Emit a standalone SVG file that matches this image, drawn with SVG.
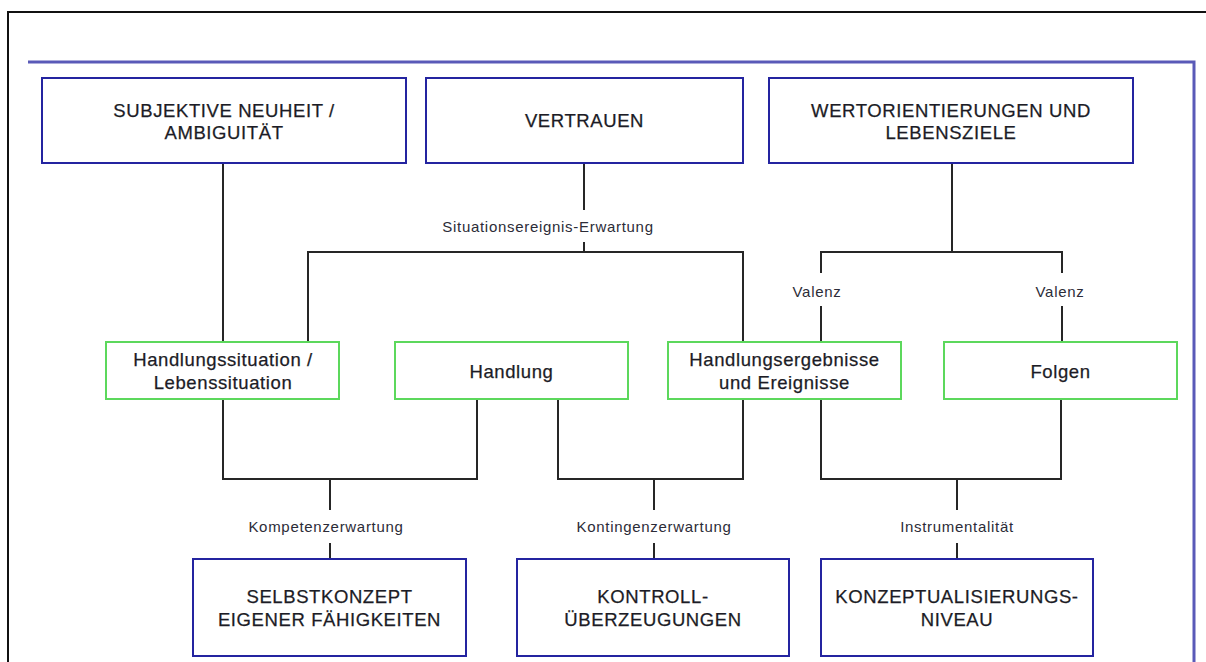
<svg xmlns="http://www.w3.org/2000/svg" width="1206" height="662" viewBox="0 0 1206 662">
<style>
.bg{fill:#ffffff}
.frame{fill:none;stroke:#111111;stroke-width:2}
.bframe{fill:none;stroke:#5a5ab8;stroke-width:3}
.blue{fill:#ffffff;stroke:#2424a0;stroke-width:2}
.green{fill:#ffffff;stroke:#5cd85c;stroke-width:2}
.t{font-family:"Liberation Sans",Arial,sans-serif;font-size:18.5px;letter-spacing:0.6px;fill:#1c1c26;text-anchor:middle;stroke:#1c1c26;stroke-width:0.25}
.lbl{font-family:"Liberation Sans",Arial,sans-serif;font-size:15px;letter-spacing:0.7px;fill:#2c2c38;text-anchor:middle}
.c{fill:none;stroke:#262626;stroke-width:2}
</style>
<rect class="bg" x="0" y="0" width="1206" height="662"/>
<path class="frame" d="M8,662 V12 H1206"/>
<path class="bframe" d="M28,62 H1194 V662"/>

<g id="connectors">
<path class="c" d="M223,163 V342"/>
<path class="c" d="M584,163 V210 M584,242 V252 M308,342 V252 H743 V342"/>
<path class="c" d="M952,163 V252 M821,273 V252 H1062 V273 M821,306 V342 M1062,306 V342"/>
<path class="c" d="M223,399 V479 H477 V399 M330,479 V510 M330,543 V559"/>
<path class="c" d="M558,399 V479 H743 V399 M654,479 V510 M654,543 V559"/>
<path class="c" d="M821,399 V479 H1061 V399 M957,479 V510 M957,543 V559"/>
<text class="lbl" x="548" y="232">Situationsereignis-Erwartung</text>
<text class="lbl" x="817" y="297">Valenz</text>
<text class="lbl" x="1060" y="297">Valenz</text>
<text class="lbl" x="326" y="532">Kompetenzerwartung</text>
<text class="lbl" x="654" y="532">Kontingenzerwartung</text>
<text class="lbl" x="957" y="532">Instrumentalität</text>
</g>

<g id="neuheit">
<rect class="blue" x="42" y="78" width="364" height="85"/>
<text class="t" x="224" y="117">SUBJEKTIVE NEUHEIT /</text>
<text class="t" x="224" y="139">AMBIGUITÄT</text>
</g>
<g id="vertrauen">
<rect class="blue" x="426" y="78" width="317" height="85"/>
<text class="t" x="584.5" y="127">VERTRAUEN</text>
</g>
<g id="wert">
<rect class="blue" x="769" y="78" width="364" height="85"/>
<text class="t" x="951" y="117">WERTORIENTIERUNGEN UND</text>
<text class="t" x="951" y="139">LEBENSZIELE</text>
</g>

<g id="situation">
<rect class="green" x="106" y="342" width="233" height="57"/>
<text class="t" x="223" y="366">Handlungssituation /</text>
<text class="t" x="223" y="389">Lebenssituation</text>
</g>
<g id="handlung">
<rect class="green" x="395" y="342" width="233" height="57"/>
<text class="t" x="511.5" y="378">Handlung</text>
</g>
<g id="ergebnisse">
<rect class="green" x="668" y="342" width="233" height="57"/>
<text class="t" x="784.5" y="366">Handlungsergebnisse</text>
<text class="t" x="784.5" y="389">und Ereignisse</text>
</g>
<g id="folgen">
<rect class="green" x="944" y="342" width="233" height="57"/>
<text class="t" x="1060.5" y="378">Folgen</text>
</g>

<g id="selbstkonzept">
<rect class="blue" x="193" y="559" width="273" height="97"/>
<text class="t" x="329.5" y="603">SELBSTKONZEPT</text>
<text class="t" x="329.5" y="626">EIGENER FÄHIGKEITEN</text>
</g>
<g id="kontroll">
<rect class="blue" x="517" y="559" width="272" height="97"/>
<text class="t" x="653" y="603">KONTROLL-</text>
<text class="t" x="653" y="626">ÜBERZEUGUNGEN</text>
</g>
<g id="konzept">
<rect class="blue" x="821" y="559" width="272" height="97"/>
<text class="t" x="957" y="603">KONZEPTUALISIERUNGS-</text>
<text class="t" x="957" y="626">NIVEAU</text>
</g>
</svg>
